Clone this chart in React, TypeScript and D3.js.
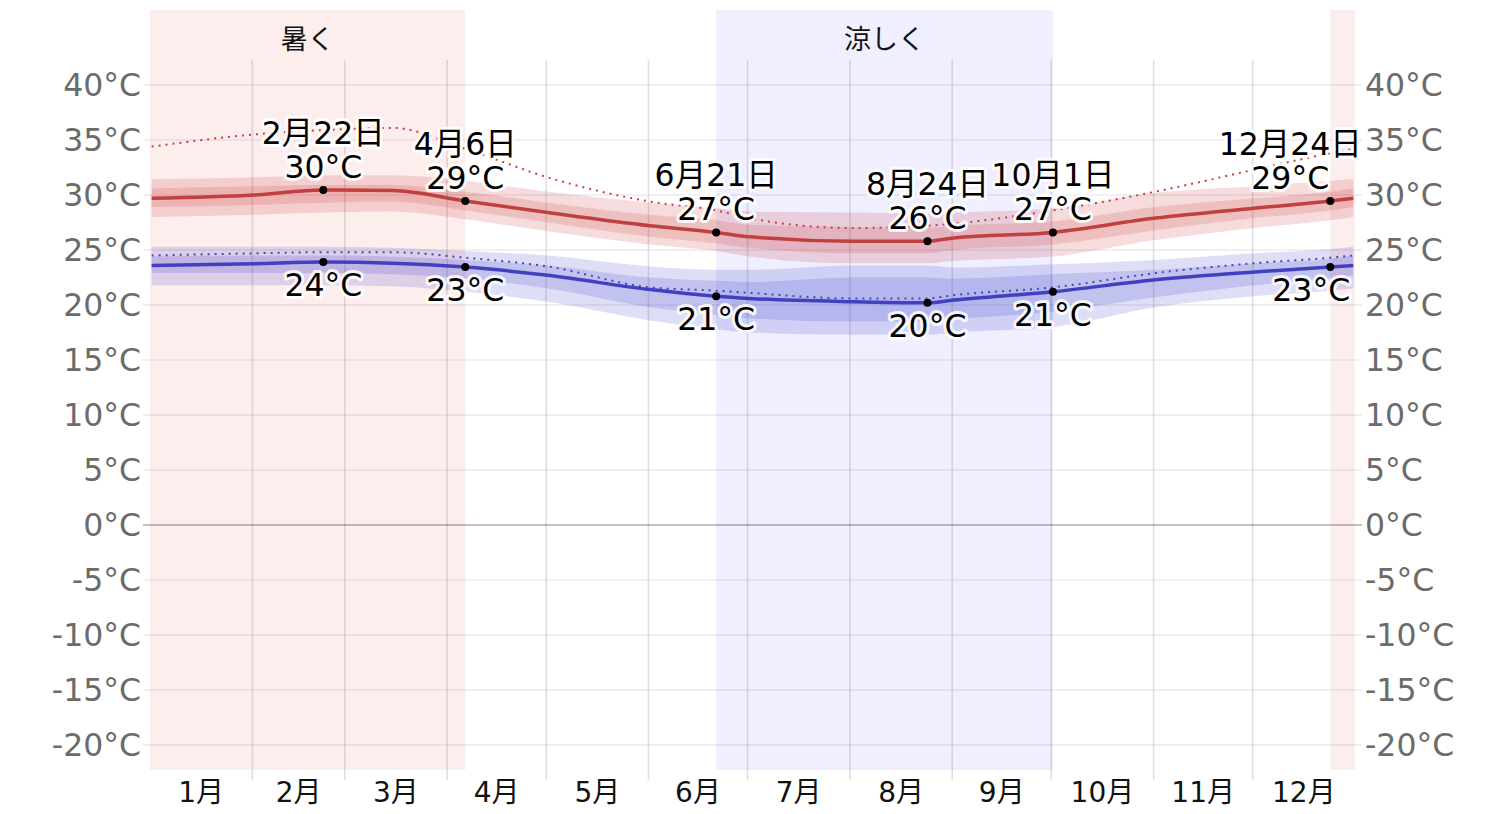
import React from "react";
import { scaleLinear, line, area, curveMonotoneX, range } from "d3";

// sample days (0 = Jan 1) and readings
const days = [0, 31, 52, 73, 95, 120, 151, 171, 181, 212, 235, 243, 273, 304, 334, 357, 364];

const highMean = [29.7, 30.0, 30.45, 30.4, 29.45, 28.4, 27.2, 26.6, 26.2, 25.8, 25.8, 26.1, 26.6, 27.9, 28.8, 29.45, 29.7];
const highP10 = [28.0, 28.2, 28.4, 28.5, 27.8, 26.7, 25.5, 24.9, 24.4, 23.8, 23.8, 24.0, 24.4, 25.9, 27.0, 27.7, 28.0];
const highP25 = [28.9, 29.1, 29.3, 29.4, 28.6, 27.5, 26.2, 25.6, 25.2, 24.7, 24.7, 25.0, 25.5, 26.8, 27.9, 28.6, 28.9];
const highP75 = [30.6, 30.8, 30.9, 30.9, 30.3, 29.3, 28.2, 27.7, 27.3, 27.1, 27.0, 27.2, 27.6, 28.9, 29.7, 30.3, 30.6];
const highP90 = [31.45, 31.6, 31.8, 31.8, 31.3, 30.3, 29.3, 28.8, 28.5, 28.4, 28.3, 28.4, 28.8, 30.2, 30.8, 31.3, 31.45];

const lowMean = [23.6, 23.75, 23.9, 23.8, 23.45, 22.7, 21.4, 20.8, 20.6, 20.3, 20.2, 20.45, 21.2, 22.3, 23.0, 23.45, 23.6];
const lowP10 = [21.8, 21.8, 21.8, 21.7, 21.2, 20.3, 18.6, 17.8, 17.5, 17.3, 17.3, 17.5, 18.0, 19.8, 20.8, 21.3, 21.5];
const lowP25 = [22.9, 22.9, 22.9, 22.8, 22.4, 21.5, 19.8, 19.1, 18.8, 18.5, 18.5, 18.7, 19.4, 20.7, 21.8, 22.4, 22.7];
const lowP75 = [24.4, 24.5, 24.5, 24.4, 24.1, 23.6, 22.5, 22.2, 22.1, 22.5, 22.5, 22.4, 22.8, 23.2, 23.8, 24.2, 24.5];
const lowP90 = [25.3, 25.3, 25.3, 25.2, 24.9, 24.5, 23.5, 23.2, 23.2, 23.6, 23.6, 23.4, 23.7, 24.1, 24.7, 25.1, 25.3];

// dotted lines
const highFeel = [34.4, 35.5, 35.9, 36.1, 34.2, 31.6, 29.4, 28.6, 27.9, 27.0, 27.2, 27.4, 28.6, 30.3, 32.3, 33.8, 34.2];
const lowFeel = [24.5, 24.7, 24.8, 24.8, 24.3, 23.5, 21.6, 21.3, 21.1, 20.6, 20.6, 20.9, 21.6, 22.9, 23.8, 24.3, 24.5];

// annotated days
const labelDays = [52, 95, 171, 235, 273, 357];
const labelNames = ["2月22日", "4月6日", "6月21日", "8月24日", "10月1日", "12月24日"];
const labelHigh = [30, 29, 27, 26, 27, 29];
const labelLow = [24, 23, 21, 20, 21, 23];

// seasons
const hotSpans = [[0, 95], [357, 364]];
const coolSpans = [[171, 273]];
const seasonTitles = [
  { text: "暑く", span: [0, 95] },
  { text: "涼しく", span: [171, 273] },
];

const monthStarts = [0, 31, 59, 90, 120, 151, 181, 212, 243, 273, 304, 334, 365];
const monthNames = ["1月", "2月", "3月", "4月", "5月", "6月", "7月", "8月", "9月", "10月", "11月", "12月"];
const yTicks = range(-20, 41, 5);

const W = 1506;
const H = 814;
const FONT = "'DejaVu Sans', 'Noto Sans CJK JP', sans-serif";

export default function App() {
  const x = scaleLinear().domain([0, 365]).range([150, 1355]);
  const y = scaleLinear().domain([-20, 40]).range([745, 85]);
  const px = (d: number) => x(d + 0.5);
  const edgeX = (d: number) => (d === 0 ? x(0) : d === 364 ? x(365) : px(d));

  const idx = days.map((_, i) => i);
  const mkLine = (vals: number[]) =>
    line<number>()
      .x((i) => px(days[i]))
      .y((i) => y(vals[i]))
      .curve(curveMonotoneX)(idx) as string;
  const mkArea = (lo: number[], hi: number[]) =>
    area<number>()
      .x((i) => px(days[i]))
      .y0((i) => y(lo[i]))
      .y1((i) => y(hi[i]))
      .curve(curveMonotoneX)(idx) as string;

  const halo = {
    stroke: "white",
    strokeWidth: 6,
    strokeOpacity: 0.85,
    paintOrder: "stroke",
    strokeLinejoin: "round" as const,
  };

  return (
    <svg
      width={W}
      height={H}
      style={{ position: "absolute", left: 0, top: 0, background: "white" }}
      fontFamily={FONT}
    >
      {/* season shading */}
      {hotSpans.map(([a, b], i) => (
        <rect key={"h" + i} x={edgeX(a)} y={10} width={edgeX(b) - edgeX(a)} height={760} fill="#fdeeee" />
      ))}
      {coolSpans.map(([a, b], i) => (
        <rect key={"c" + i} x={px(a)} y={10} width={px(b) - px(a)} height={760} fill="#efefff" />
      ))}
      {seasonTitles.map((s) => (
        <text
          key={s.text}
          x={(edgeX(s.span[0]) + edgeX(s.span[1])) / 2}
          y={39}
          textAnchor="middle"
          dominantBaseline="central"
          fontSize={27}
          fill="#111"
        >
          {s.text}
        </text>
      ))}

      {/* grid */}
      {yTicks.map((t) => (
        <line
          key={"g" + t}
          x1={143}
          x2={1362}
          y1={y(t)}
          y2={y(t)}
          stroke={t === 0 ? "rgba(60,40,40,0.4)" : "rgba(0,0,0,0.08)"}
          strokeWidth={1.6}
        />
      ))}
      {monthStarts.slice(1, 12).map((d) => (
        <line key={"v" + d} x1={x(d)} x2={x(d)} y1={60} y2={780} stroke="rgba(0,0,0,0.12)" strokeWidth={1.6} />
      ))}

      {/* y axis labels */}
      {yTicks.map((t) => (
        <g key={"t" + t} fontSize={31.5} fill="#6b6b6b" dominantBaseline="central">
          <text x={141} y={y(t)} textAnchor="end">
            {t}°C
          </text>
          <text x={1365} y={y(t)} textAnchor="start">
            {t}°C
          </text>
        </g>
      ))}

      {/* month labels */}
      {monthNames.map((m, i) => (
        <text
          key={m}
          x={x((monthStarts[i] + monthStarts[i + 1]) / 2)}
          y={792}
          textAnchor="middle"
          dominantBaseline="central"
          fontSize={28}
          fill="#111"
        >
          {m}
        </text>
      ))}

      {/* bands */}
      <path d={mkArea(highP10, highP90)} fill="rgb(200,50,50)" fillOpacity={0.17} />
      <path d={mkArea(highP25, highP75)} fill="rgb(200,50,50)" fillOpacity={0.17} />
      <path d={mkArea(lowP10, lowP90)} fill="rgb(50,50,200)" fillOpacity={0.16} />
      <path d={mkArea(lowP25, lowP75)} fill="rgb(50,50,200)" fillOpacity={0.16} />

      {/* dotted lines */}
      <path d={mkLine(highFeel)} fill="none" stroke="#c84040" strokeWidth={2} strokeDasharray="2 5" />
      <path d={mkLine(lowFeel)} fill="none" stroke="#4545c0" strokeWidth={2} strokeDasharray="2 5" />

      {/* mean lines */}
      <path d={mkLine(highMean)} fill="none" stroke="#c04040" strokeWidth={3.5} />
      <path d={mkLine(lowMean)} fill="none" stroke="#4040c0" strokeWidth={3.5} />

      {/* annotations */}
      {labelDays.map((d, i) => {
        const k = days.indexOf(d);
        const cx = px(d);
        const hy = y(highMean[k]);
        const ly = y(lowMean[k]);
        const edge = i === labelDays.length - 1;
        const hx = edge ? cx - 40 : cx;
        const lx = edge ? cx - 19 : cx;
        return (
          <g key={"a" + d} fontSize={31.5} fill="#000" textAnchor="middle" dominantBaseline="central">
            <text x={hx} y={hy - 57} {...halo}>
              {labelNames[i]}
            </text>
            <text x={hx} y={hy - 23} {...halo}>
              {labelHigh[i]}°C
            </text>
            <text x={lx} y={ly + 23} {...halo}>
              {labelLow[i]}°C
            </text>
            <circle cx={cx} cy={hy} r={4} fill="#000" />
            <circle cx={cx} cy={ly} r={4} fill="#000" />
          </g>
        );
      })}
    </svg>
  );
}
